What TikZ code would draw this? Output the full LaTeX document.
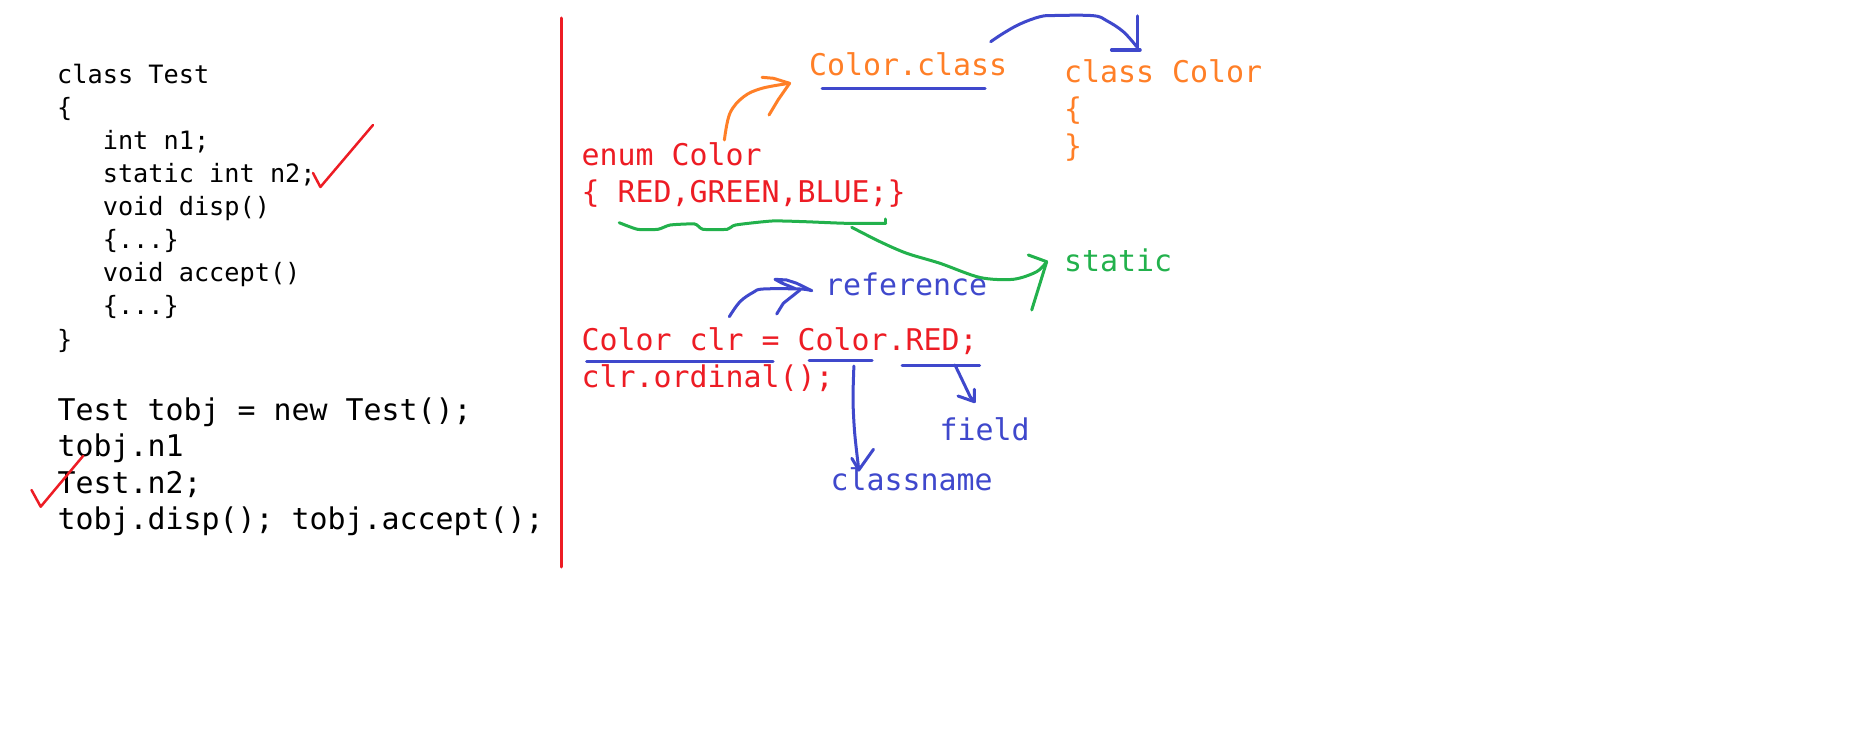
\documentclass[tikz,border=0pt]{standalone}
\usepackage{fontspec}
\newfontfamily\codefont{DejaVu Sans Mono}
\definecolor{pred}{HTML}{ED1C24}
\definecolor{porange}{HTML}{FF7F27}
\definecolor{pgreen}{HTML}{22B14C}
\definecolor{pblue}{HTML}{3F48CC}
\begin{document}
\begin{tikzpicture}[x=1pt,y=-1pt,
  smallcode/.style={anchor=base west, inner sep=0pt, font=\codefont\fontsize{25.25}{30}\selectfont},
  bigcode/.style={anchor=base west, inner sep=0pt, font=\codefont\fontsize{29.9}{36}\selectfont},
  pen/.style={line width=3pt, line cap=round, line join=round},
  redpen/.style={pen, draw=pred},
  bluepen/.style={pen, draw=pblue},
  greenpen/.style={pen, draw=pgreen},
  orangepen/.style={pen, draw=porange}]
\fill[white] (0,0) rectangle (1852,743);
\useasboundingbox (0,0) rectangle (1852,743);

% left code
\node[smallcode] (l1) at (57,84) {class Test};
\node[smallcode] (l2) at (57,117) {\{};
\node[smallcode] (l3) at (102.6,150) {int n1;};
\node[smallcode] (l4) at (102.6,183) {static int n2;};
\node[smallcode] (l5) at (102.6,216) {void disp()};
\node[smallcode] (l6) at (102.6,249) {\{...\}};
\node[smallcode] (l7) at (102.6,282) {void accept()};
\node[smallcode] (l8) at (102.6,315) {\{...\}};
\node[smallcode] (l9) at (57,348) {\}};
\node[bigcode] (m1) at (57.5,420.7) {Test tobj = new Test();};
\node[bigcode] (m2) at (57.5,456.9) {tobj.n1};
\node[bigcode] (m3) at (57.5,493) {Test.n2;};
\node[bigcode] (m4) at (57.5,529.3) {tobj.disp(); tobj.accept();};

% check marks
\draw[redpen, line width=2.5pt] (313,173) -- (320.4,187) -- (373,125);
\draw[redpen, line width=2.5pt] (31.5,490) -- (40.7,506.7) -- (83.3,455.7);

% divider
\draw[redpen] (561,18) -- (561,567);

% right side texts
\node[bigcode, text=porange] (cc) at (809,76) {Color.class};
\node[bigcode, text=porange] (k1) at (1064,82.7) {class Color};
\node[bigcode, text=porange] (k2) at (1064,120) {\{};
\node[bigcode, text=porange] (k3) at (1064,157) {\}};
\node[bigcode, text=pred] (e1) at (581.5,165.7) {enum Color};
\node[bigcode, text=pred] (e2) at (581.5,203) {\{ RED,GREEN,BLUE;\}};
\node[bigcode, text=pgreen] (st) at (1064,271.7) {static};
\node[bigcode, text=pblue] (rf) at (825,295) {reference};
\node[bigcode, text=pred] (c1) at (581.5,350) {Color clr = Color.RED;};
\node[bigcode, text=pred] (c2) at (581.5,387.3) {clr.ordinal();};
\node[bigcode, text=pblue] (fd) at (939.5,440.7) {field};
\node[bigcode, text=pblue] (cn) at (830.5,490) {classname};

% blue underline + arc to class Color
\draw[bluepen] (822,88.3) -- (985,88.3);
\coordinate (a1) at (990.7,41.7);
\coordinate (a2) at (1136.7,46.7);
\draw[bluepen] plot[smooth, tension=0.6] coordinates {(a1) (1003.3,33.3) (1020,24) (1040,16.7) (1055,15.5) (1093.3,15.7) (1106.7,20.7) (1123.3,31.7) (a2)};
\draw[bluepen, line width=3.5pt] (1137.7,16) -- (1137.7,50);
\draw[bluepen, line width=3.5pt] (1111.7,50) -- (1140,50);

% orange arrow enum -> Color.class
\coordinate (o1) at (724.4,140);
\coordinate (o2) at (789.6,83.3);
\draw[orangepen] plot[smooth, tension=0.6] coordinates {(o1) (729.9,113.3) (743.7,96.7) (762,88.3) (o2)};
\draw[orangepen] (762,77.3) -- (773.5,78.3) -- (o2) -- (778,100) -- (769,115);

% green wavy underline
\draw[greenpen] plot[smooth, tension=0.35] coordinates {(619.2,222.7) (637.6,229.3) (658,229.3) (670.2,225) (694.7,224) (702.9,229.3) (727.3,229.3) (735.5,225) (772.2,221) (805,221.7) (845.7,223.3) (885.7,223.3)};
\draw[greenpen] (885.7,223.3) -- (885.7,219);

% green arrow to static
\coordinate (g1) at (851.7,227.3);
\coordinate (g2) at (1046.7,261.7);
\draw[greenpen] plot[smooth, tension=0.5] coordinates {(g1) (880,241.7) (906.7,253.3) (940,263.3) (980,277.5) (1013.3,279.3) (1036.7,271.7) (g2)};
\draw[greenpen] (1028.3,255) -- (g2) -- (1040,283.3) -- (1031.7,310);

% blue arrow to reference
\coordinate (r1) at (729.3,316.7);
\coordinate (r2) at (811.7,290.7);
\draw[bluepen] plot[smooth, tension=0.6] coordinates {(r1) (740,301.7) (753.3,292.3) (763.3,289) (800,289) (r2)};
\draw[bluepen] (r2) -- (796.7,283.3) -- (786.7,280) -- (775,279.3) -- (781.7,283) -- (795,288.5);
\draw[bluepen] (800,290) -- (783.3,303.3) -- (776.7,314);

% blue underlines
\draw[bluepen] (586.5,361.7) -- (773,361.7);
\draw[bluepen] (809,360.7) -- (872.2,360.7);
\draw[bluepen] (902,365) -- (979.6,365);

% arrow to classname
\coordinate (n1) at (853.9,366);
\coordinate (n2) at (858.8,470);
\draw[bluepen] plot[smooth, tension=0.5] coordinates {(n1) (853,400) (854.7,433.3) (n2)};
\draw[bluepen] (851.8,458.3) -- (n2) -- (873.5,449.3);

% arrow to field
\coordinate (f1) at (955,365);
\coordinate (f2) at (974.3,401.7);
\draw[bluepen] (f1) -- (970.2,396.7) -- (f2);
\draw[bluepen] (958,396) -- (f2) -- (974.3,389.3);
\end{tikzpicture}
\end{document}
